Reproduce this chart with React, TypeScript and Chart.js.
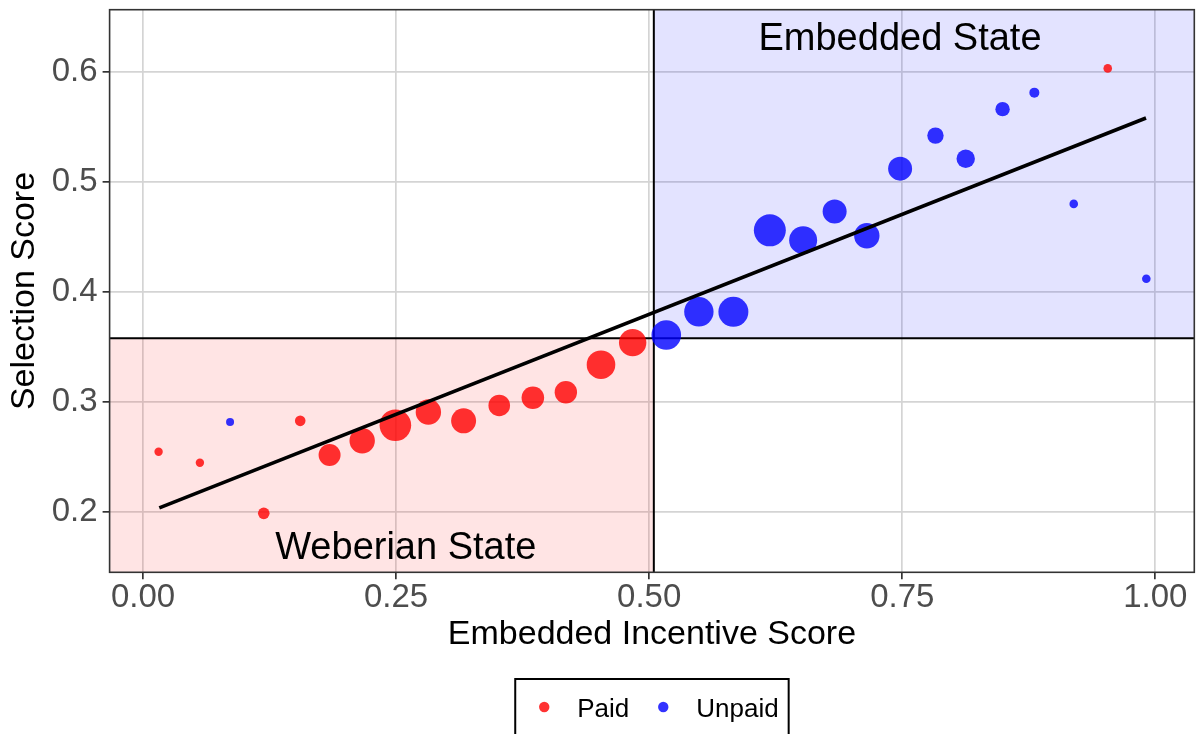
import React, { useEffect, useRef } from "react";
import { Chart, registerables } from "chart.js";

Chart.register(...registerables);

// ---------- data ----------
const seriesNames = ["Paid", "Unpaid"];

const paidX = [0.0154, 0.0562, 0.1193, 0.1553, 0.1843, 0.2165, 0.2493, 0.2819, 0.3167, 0.3519, 0.3851, 0.4177, 0.4524, 0.4837, 0.953];
const paidY = [0.255, 0.245, 0.199, 0.283, 0.252, 0.265, 0.279, 0.291, 0.283, 0.297, 0.304, 0.309, 0.334, 0.354, 0.603];
const paidWeight = [4.2, 4.2, 5.8, 5.3, 11, 12.7, 15.8, 12.7, 12.5, 10.8, 11.3, 11.2, 14.3, 13.7, 4.3];

const unpaidX = [0.086, 0.5169, 0.5491, 0.5832, 0.6192, 0.6521, 0.6832, 0.715, 0.7479, 0.7828, 0.8127, 0.8491, 0.8805, 0.9194, 0.9911];
const unpaidY = [0.282, 0.361, 0.382, 0.382, 0.456, 0.447, 0.473, 0.451, 0.512, 0.542, 0.521, 0.566, 0.581, 0.480, 0.412];
const unpaidWeight = [4, 14.8, 14.7, 15, 16, 14, 12, 12.7, 12, 8.2, 9.2, 7.2, 5, 4.3, 4.3];

const fitX = [0.0161, 0.9908];
const fitY = [0.204, 0.558];

const thresholdX = 0.5046;
const thresholdY = 0.358;

const regionLabels = ["Weberian State", "Embedded State"];
const regionLabelX = [0.2596, 0.7478];
const regionLabelY = [0.1573, 0.6197];

const xTicks = [0, 0.25, 0.5, 0.75, 1.0];
const xTickLabels = ["0.00", "0.25", "0.50", "0.75", "1.00"];
const yTicks = [0.2, 0.3, 0.4, 0.5, 0.6];
const yTickLabels = ["0.2", "0.3", "0.4", "0.5", "0.6"];

const xTitle = "Embedded Incentive Score";
const yTitle = "Selection Score";

// ---------- styles ----------
const FONT = '"Liberation Sans", Arial, Helvetica, sans-serif';
const PAID_COLOR = "rgba(255,0,0,0.8)";
const UNPAID_COLOR = "rgba(0,0,255,0.8)";

const regionPlugin = {
  id: "regions",
  beforeDatasetsDraw(chart: any) {
    const { ctx, chartArea: a, scales } = chart;
    const x = scales.x;
    const y = scales.y;
    const px = x.getPixelForValue(thresholdX);
    const py = y.getPixelForValue(thresholdY);
    ctx.save();
    ctx.fillStyle = "rgba(255,0,0,0.105)";
    ctx.fillRect(a.left, py, px - a.left, a.bottom - py);
    ctx.fillStyle = "rgba(0,0,255,0.11)";
    ctx.fillRect(px, a.top, a.right - px, py - a.top);
    ctx.strokeStyle = "#000";
    ctx.lineWidth = 2;
    ctx.beginPath();
    ctx.moveTo(a.left, py);
    ctx.lineTo(a.right, py);
    ctx.moveTo(px, a.top);
    ctx.lineTo(px, a.bottom);
    ctx.stroke();
    ctx.fillStyle = "#000";
    ctx.font = `38px ${FONT}`;
    ctx.textAlign = "center";
    ctx.textBaseline = "alphabetic";
    regionLabels.forEach((t, i) => {
      ctx.fillText(t, x.getPixelForValue(regionLabelX[i]), y.getPixelForValue(regionLabelY[i]));
    });
    ctx.restore();
  },
  afterDraw(chart: any) {
    const { ctx, chartArea: a } = chart;
    ctx.save();
    // panel border
    ctx.strokeStyle = "#333333";
    ctx.lineWidth = 1.6;
    ctx.strokeRect(a.left, a.top, a.right - a.left, a.bottom - a.top);

    // legend
    ctx.font = `26px ${FONT}`;
    const colors = [PAID_COLOR, UNPAID_COLOR];
    const widths = seriesNames.map((n) => ctx.measureText(n).width);
    const leftPad = 29, dotToText = 33, textToDot = 34, rightPad = 10;
    const boxW = leftPad + dotToText + widths[0] + textToDot + dotToText + widths[1] + rightPad;
    const cx = (a.left + a.right) / 2;
    const boxL = cx - boxW / 2;
    const boxT = 679;
    ctx.strokeStyle = "#000";
    ctx.lineWidth = 2;
    ctx.strokeRect(boxL, boxT, boxW, 90);
    let xx = boxL + leftPad;
    const dotY = 707;
    ctx.textAlign = "left";
    ctx.textBaseline = "alphabetic";
    seriesNames.forEach((n, i) => {
      ctx.fillStyle = colors[i];
      ctx.beginPath();
      ctx.arc(xx, dotY, 5.2, 0, Math.PI * 2);
      ctx.fill();
      ctx.fillStyle = "#000";
      ctx.fillText(n, xx + dotToText, 716.5);
      xx += dotToText + widths[i] + textToDot;
    });
    ctx.restore();
  },
};

export default function App() {
  const ref = useRef<HTMLCanvasElement | null>(null);

  useEffect(() => {
    if (!ref.current) return;
    const paid = paidX.map((v, i) => ({ x: v, y: paidY[i], r: paidWeight[i] }));
    const unpaid = unpaidX.map((v, i) => ({ x: v, y: unpaidY[i], r: unpaidWeight[i] }));
    const fit = fitX.map((v, i) => ({ x: v, y: fitY[i] }));

    const chart = new Chart(ref.current, {
      type: "bubble",
      data: {
        datasets: [
          {
            type: "line",
            label: "fit",
            data: fit,
            borderColor: "#000",
            borderWidth: 3.6,
            pointRadius: 0,
            fill: false,
            order: 0,
          } as any,
          {
            label: seriesNames[0],
            data: paid,
            backgroundColor: PAID_COLOR,
            borderWidth: 0,
            hoverRadius: 0,
            order: 1,
          },
          {
            label: seriesNames[1],
            data: unpaid,
            backgroundColor: UNPAID_COLOR,
            borderWidth: 0,
            hoverRadius: 0,
            order: 2,
          },
        ],
      },
      options: {
        animation: false,
        responsive: false,
        devicePixelRatio: 1,
        events: [],
        layout: { autoPadding: false, padding: { left: 0, top: 9.7, right: 6.7, bottom: 61.7 } },
        plugins: {
          legend: { display: false },
          tooltip: { enabled: false },
        },
        scales: {
          x: {
            type: "linear",
            min: -0.033,
            max: 1.0385,
            afterBuildTicks: (s: any) => {
              s.ticks = xTicks.map((v) => ({ value: v }));
            },
            afterFit: (s: any) => {
              s.height = 100;
              s.paddingLeft = 0;
              s.paddingRight = 0;
            },
            ticks: {
              autoSkip: false,
              maxRotation: 0,
              padding: 2.2,
              color: "#4D4D4D",
              font: { family: FONT, size: 33, lineHeight: 1 },
              callback: (v: any) => {
                const i = xTicks.findIndex((t) => Math.abs(t - v) < 1e-9);
                return i >= 0 ? xTickLabels[i] : "";
              },
            },
            grid: {
              color: "#D4D4D4",
              lineWidth: 1.7,
              tickColor: "#333333",
              tickLength: 7,
              tickWidth: 1.7,
            },
            border: { display: false },
            title: {
              display: true,
              text: xTitle,
              color: "#000",
              font: { family: FONT, size: 34 },
              padding: { top: 0, bottom: 17.4 },
            },
          },
          y: {
            type: "linear",
            min: 0.1455,
            max: 0.6563,
            afterBuildTicks: (s: any) => {
              s.ticks = yTicks.map((v) => ({ value: v }));
            },
            afterFit: (s: any) => {
              s.width = 109.6;
              s.paddingTop = 0;
              s.paddingBottom = 0;
            },
            ticks: {
              autoSkip: false,
              padding: 5,
              color: "#4D4D4D",
              font: { family: FONT, size: 33 },
              callback: (v: any) => {
                const i = yTicks.findIndex((t) => Math.abs(t - v) < 1e-9);
                return i >= 0 ? yTickLabels[i] : "";
              },
            },
            grid: {
              color: "#D4D4D4",
              lineWidth: 1.7,
              tickColor: "#333333",
              tickLength: 7,
              tickWidth: 1.7,
            },
            border: { display: false },
            title: {
              display: true,
              text: yTitle,
              color: "#000",
              font: { family: FONT, size: 34 },
              padding: { top: 4.1, bottom: 0 },
            },
          },
        },
      },
      plugins: [regionPlugin],
    });
    return () => chart.destroy();
  }, []);

  return (
    <div style={{ position: "absolute", left: 0, top: 0, width: 1201, height: 734, background: "#fff" }}>
      <canvas ref={ref} width={1201} height={734} style={{ display: "block" }} />
    </div>
  );
}
